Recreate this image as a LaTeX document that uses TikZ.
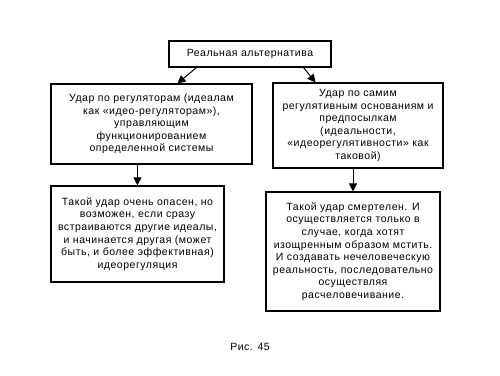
\documentclass[tikz,border=0pt]{standalone}
\usepackage{fontspec}
\setmainfont{Liberation Sans}[LetterSpace=5]
\usetikzlibrary{arrows.meta}
\begin{document}
\begin{tikzpicture}[x=1pt,y=-1pt,
  box/.style={draw=black,line width=1.1pt,rectangle,align=center,inner xsep=1pt,inner ysep=2pt,
    font=\fontsize{10.5}{12.6}\selectfont},
  conn/.style={line width=1pt,-{Triangle[length=8pt,width=8pt]}}]
\useasboundingbox (0,0) rectangle (500,375);
\node[box,minimum width=162pt,minimum height=26pt] (top) at (250,54) {Реальная альтернатива};
\node[box,minimum width=201pt,minimum height=80pt] (l1) at (151.5,124)
  {Удар по регуляторам (идеалам\\как «идео-регуляторам»),\\управляющим\\функционированием\\определенной системы};
\node[box,minimum width=170pt,minimum height=85pt] (r1) at (358,125.5)
  {Удар по самим\\регулятивным основаниям и\\предпосылкам\\(идеальности,\\«идеорегулятивности» как\\таковой)};
\node[box,minimum width=173pt,minimum height=96pt] (l2) at (137.5,234)
  {Такой удар очень опасен, но\\возможен, если сразу\\встраиваются другие идеалы,\\и начинается другая (может\\быть, и более эффективная)\\идеорегуляция};
\node[box,minimum width=174pt,minimum height=119pt] (r2) at (353,251.5)
  {Такой удар смертелен. И\\осуществляется только в\\случае, когда хотят\\изощренным образом мстить.\\И создавать нечеловеческую\\реальность, последовательно\\осуществляя\\расчеловечивание.};
\node[font=\fontsize{10.5}{12}\selectfont] (cap) at (250,347) {Рис. 45};
\draw[conn] ([xshift=28pt]top.south west) -- ([xshift=127pt]l1.north west);
\draw[conn] ([xshift=-28pt]top.south east) -- ([xshift=43pt]r1.north west);
\draw[conn] (l2.north |- l1.south) -- (l2.north);
\draw[conn] (r2.north |- r1.south) -- (r2.north);
\end{tikzpicture}
\end{document}
